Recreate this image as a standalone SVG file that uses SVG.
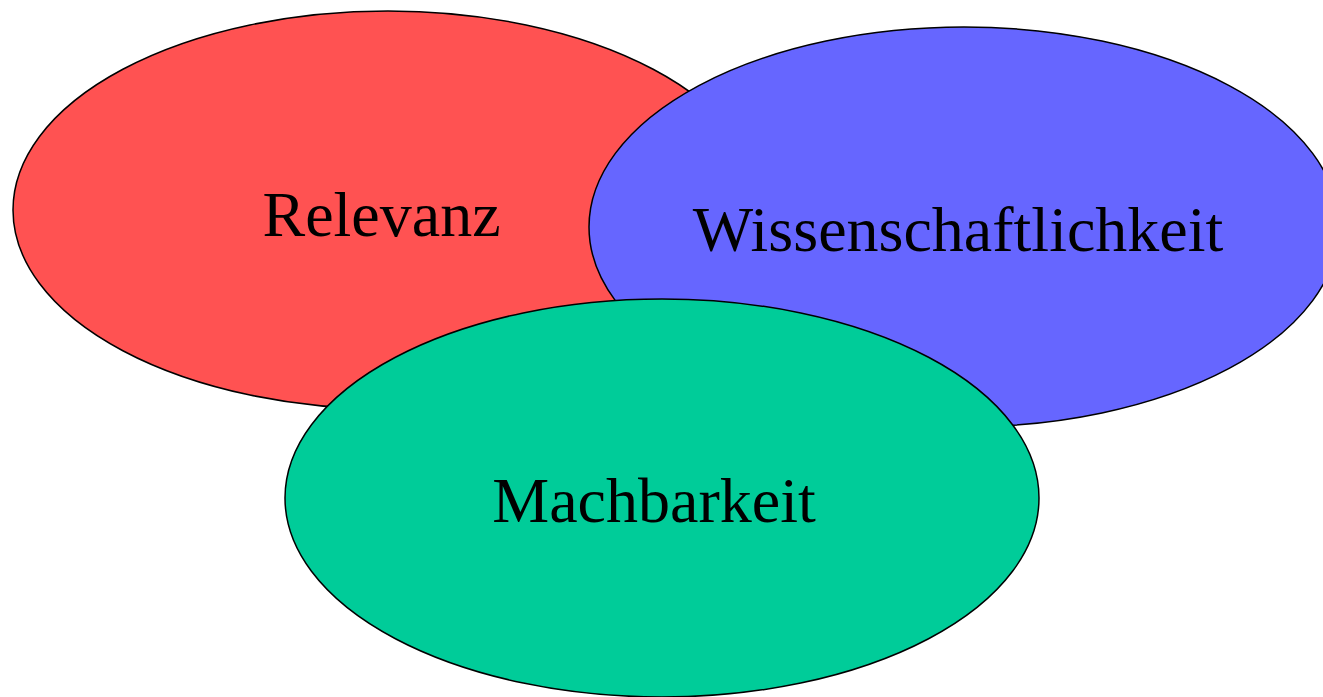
<svg xmlns="http://www.w3.org/2000/svg" width="1323" height="697" viewBox="0 0 1323 697">
<style>
.e{stroke:#000;stroke-width:1.5}
.t{font-family:"Liberation Serif","Times New Roman",serif;font-size:64px;fill:#000;text-anchor:middle}
</style>
<rect width="1323" height="697" fill="#fff"/>
<g id="relevanz">
<ellipse class="e" cx="388" cy="210" rx="375" ry="199" fill="#FF5252"/>
<text class="t" x="381.5" y="236">Relevanz</text>
</g>
<g id="wissenschaftlichkeit">
<ellipse class="e" cx="964" cy="227" rx="375" ry="200" fill="#6666FF"/>
<text class="t" x="958" y="251">Wissenschaftlichkeit</text>
</g>
<g id="machbarkeit">
<ellipse class="e" cx="662" cy="498" rx="377" ry="199" fill="#00CC99"/>
<text class="t" x="654" y="522">Machbarkeit</text>
</g>
<g id="connectors"/>
</svg>
